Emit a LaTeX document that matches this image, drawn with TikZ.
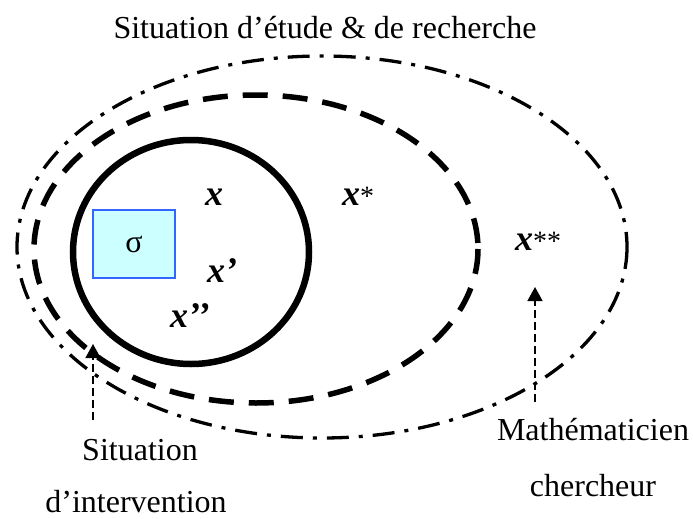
\documentclass[tikz,border=0pt]{standalone}
\usepackage{fontspec}
\setmainfont{Liberation Serif}
\usetikzlibrary{arrows.meta}
\definecolor{boxfill}{HTML}{CCFFFF}
\definecolor{boxline}{HTML}{3366FF}
\begin{document}
\begin{tikzpicture}[x=1pt,y=-1pt,
  lbl/.style={font=\fontsize{32}{36}\selectfont, inner sep=0pt},
  var/.style={font=\fontsize{36}{40}\selectfont\bfseries\itshape, inner sep=0pt, anchor=base west},
  ptr/.style={dash pattern=on 8pt off 4pt, line width=1.6pt, -{Triangle[length=14pt,width=15pt]}}]
\useasboundingbox (0,0) rectangle (693,519);
\node[lbl] (title) at (325,28) {Situation d’étude \& de recherche};
\draw[line width=3.3pt, dash pattern=on 22pt off 10pt on 4pt off 10pt] (322,247) ellipse [x radius=305, y radius=191];
\draw[line width=5.5pt, dash pattern=on 25pt off 15pt] (256,249) ellipse [x radius=222, y radius=154];
\draw[line width=6.5pt] (191,252) ellipse [x radius=118, y radius=112];
\node[draw=boxline, line width=1.5pt, fill=boxfill, minimum width=82pt, minimum height=68pt, font=\fontsize{32}{36}\selectfont] (sigma) at (134,244) {σ};
\node[var] (x) at (205,205) {x};
\node[var] (xs) at (342,205) {x\textmd{\upshape\fontsize{28}{30}\selectfont *}};
\node[var] (xp) at (207,282) {x’};
\node[var] (xpp) at (170,327) {x’’};
\node[var] (xss) at (515,250) {x\textmd{\upshape\fontsize{28}{30}\selectfont **}};
\node[lbl] (si) at (140,450) {Situation};
\node[lbl] (di) at (136,502) {d’intervention};
\node[lbl] (ma) at (593,430) {Mathématicien};
\node[lbl] (ch) at (593,486) {chercheur};
\coordinate (a1) at (93,420);
\coordinate (t1) at (93,344);
\coordinate (a2) at (535,402);
\coordinate (t2) at (535,287);
\draw[ptr] (a1) -- (t1);
\draw[ptr] (a2) -- (t2);
\end{tikzpicture}
\end{document}
